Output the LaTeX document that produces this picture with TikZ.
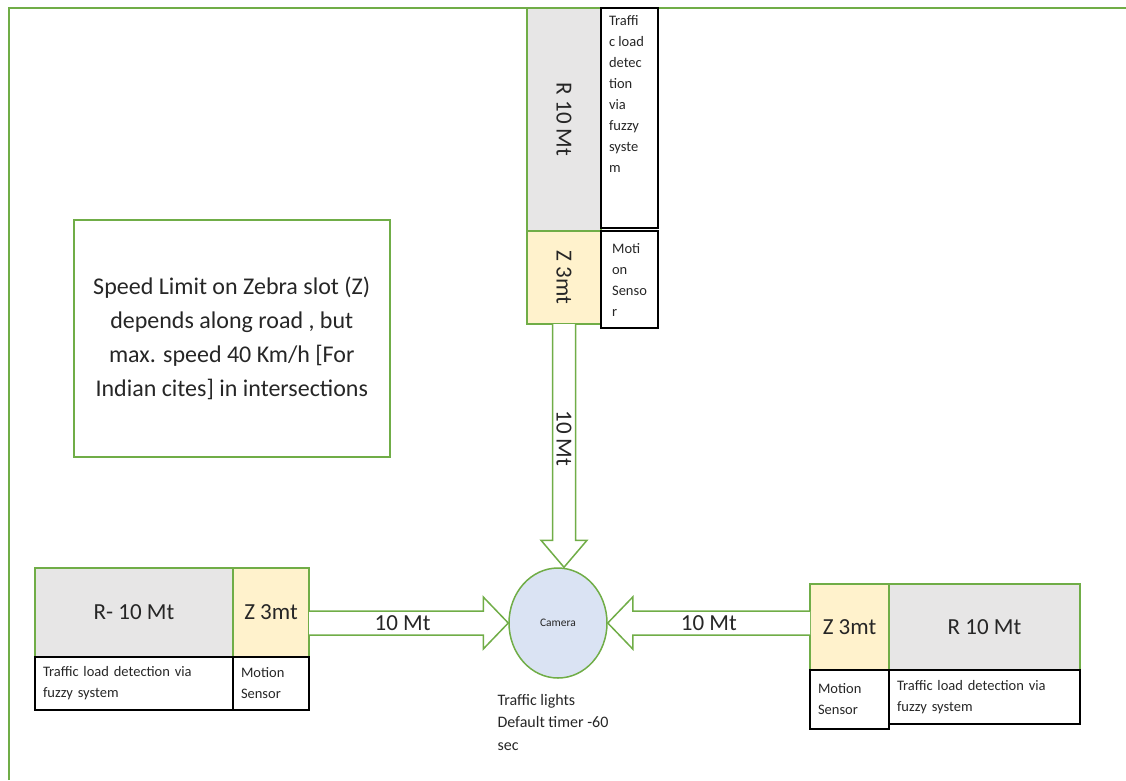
\documentclass[tikz,border=0pt]{standalone}
\usepackage{graphicx}
\usepackage{fontspec}
\setmainfont{Carlito}
\usetikzlibrary{positioning,shapes.geometric,calc}
\definecolor{roadgreen}{HTML}{70AD47}
\definecolor{roadgray}{HTML}{E7E6E6}
\definecolor{zebrayellow}{HTML}{FFF2CC}
\definecolor{camblue}{HTML}{DAE3F3}

\begin{document}
\begin{tikzpicture}[
  x=1pt, y=1pt,
  road/.style={draw=roadgreen, line width=1.5pt, fill=roadgray, inner sep=0pt, outer sep=0pt, text=black!85, font=\fontsize{23}{27}\selectfont},
  zebra/.style={road, fill=zebrayellow},
  info/.style={draw=black, line width=1.3pt, inner xsep=8pt, inner ysep=2pt, outer sep=0pt, align=left, text=black!85, font=\fontsize{14.5}{21}\selectfont},
  note/.style={draw=roadgreen, line width=1.5pt, align=center, inner sep=0pt, text=black!85, font=\fontsize{24}{34}\selectfont},
  camera/.style={ellipse, draw=roadgreen, line width=1.5pt, fill=camblue, inner sep=0pt, minimum width=98, minimum height=110, text=black!85, font=\fontsize{11.5}{14}\selectfont},
  fatarrow/.style={draw=roadgreen, line width=1.5pt, fill=white},
  dist/.style={inner sep=0pt, text=black!85, font=\fontsize{23}{27}\selectfont},
  frame/.style={draw=roadgreen, line width=2pt}
]
\useasboundingbox (0,0) rectangle (1126,-780);
\draw[frame] (9,-780) -- (9,-8) -- (1126,-8);

% north approach
\node[road, minimum width=74, minimum height=223, anchor=north west] (rn) at (527,-8) {\rotatebox{-90}{R 10 Mt}};
\node[zebra, minimum width=74, minimum height=93, below=0pt of rn] (zn) {\rotatebox{-90}{Z 3mt}};
\node[info, inner ysep=7pt, anchor=north west] (ln) at (rn.north east) {\parbox[c][206pt][t]{41pt}{\raggedright Traffi\\c load\\detec\\tion\\via\\fuzzy\\syste\\m}};
\node[info, minimum width=57, minimum height=97, anchor=north west] (mn) at (zn.north east) {Moti\\on\\Senso\\r};

% west approach
\node[road, minimum width=198, minimum height=89, anchor=north west] (rw) at (35,-568) {R- 10 Mt};
\node[zebra, minimum width=76, minimum height=89, right=0pt of rw] (zw) {Z 3mt};
\node[info, minimum height=53, text width=182, below=0pt of rw] (lw) {Traffic load detection via\\fuzzy system};
\node[info, minimum height=53, text width=60, below=0pt of zw] (mw) {Motion\\Sensor};

% east approach
\node[zebra, minimum width=79, minimum height=86, anchor=north west] (ze) at (810,-584) {Z 3mt};
\node[road, minimum width=191, minimum height=86, right=0pt of ze] (re) {R 10 Mt};
\node[info, minimum height=59, text width=63, anchor=north west] (me) at (ze.south west) {Motion\\Sensor};
\node[info, minimum height=54, text width=175, anchor=north west] (le) at (re.south west) {Traffic load detection via\\fuzzy system};

% intersection
\node[camera] (cam) at (558,-623) {Camera};
\node[inner sep=0pt, align=left, text=black!85, font=\fontsize{16}{22.5}\selectfont, below=15pt of cam, xshift=-5pt] (lights) {Traffic lights\\Default timer -60\\sec};

\node[note, minimum width=316, minimum height=237, anchor=north west] (limit) at (73,-219) {Speed Limit on Zebra slot (Z)\\depends along road , but\\max. speed 40 Km/h [For\\Indian cites] in intersections};

% 10 Mt arrows
\draw[fatarrow] let \p1=(zn.south), \p2=(cam.north) in
  (\x1-11.5pt,\y1) -- (\x1-11.5pt,\y2+27pt) -- (\x1-23pt,\y2+27pt) -- (\x1,\y2) -- (\x1+23pt,\y2+27pt) -- (\x1+11.5pt,\y2+27pt) -- (\x1+11.5pt,\y1);
\node[dist, rotate=-90] at ($(zn.south)!0.47!(zn.south|-cam.north)$) {10 Mt};

\draw[fatarrow] let \p1=(zw.east), \p2=(cam.west) in
  (\x1,\y2+12pt) -- (\x2-25pt,\y2+12pt) -- (\x2-25pt,\y2+26pt) -- (\p2) -- (\x2-25pt,\y2-26pt) -- (\x2-25pt,\y2-12pt) -- (\x1,\y2-12pt);
\node[dist] at ($(zw.east|-cam.west)!0.47!(cam.west)$) {10 Mt};

\draw[fatarrow] let \p1=(ze.west), \p2=(cam.east) in
  (\x1,\y2+12pt) -- (\x2+25pt,\y2+12pt) -- (\x2+25pt,\y2+26pt) -- (\p2) -- (\x2+25pt,\y2-26pt) -- (\x2+25pt,\y2-12pt) -- (\x1,\y2-12pt);
\node[dist] at ($(ze.west|-cam.east)!0.5!(cam.east)$) {10 Mt};
\end{tikzpicture}
\end{document}
